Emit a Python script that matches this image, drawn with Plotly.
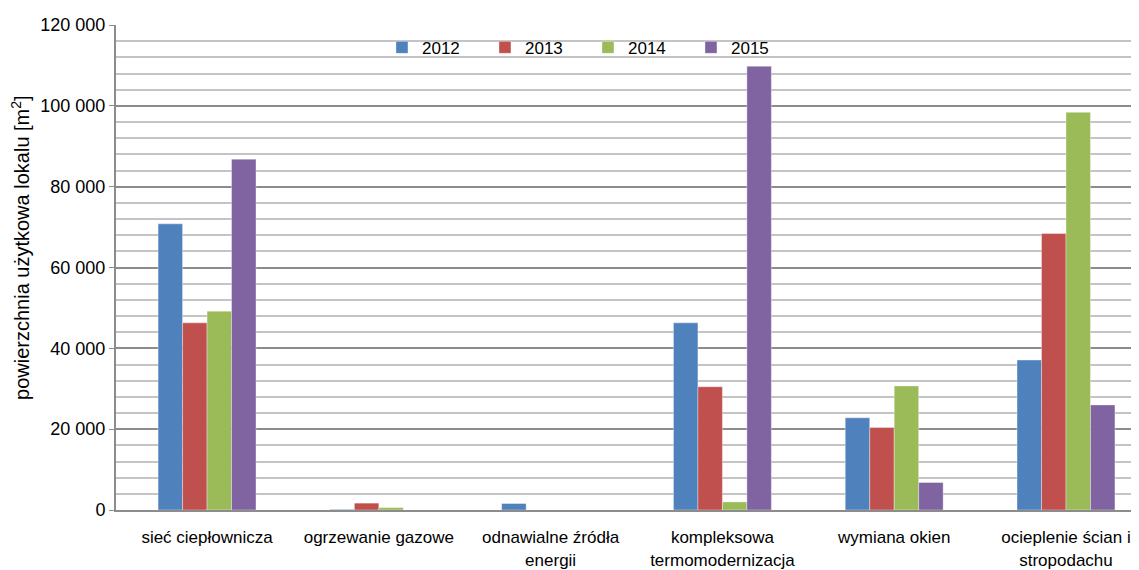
import plotly.graph_objects as go

categories = [
    "sieć ciepłownicza",
    "ogrzewanie gazowe",
    "odnawialne źródła<br>energii",
    "kompleksowa<br>termomodernizacja",
    "wymiana okien",
    "ocieplenie ścian i<br>stropodachu",
]
years = ["2012", "2013", "2014", "2015"]
v2012 = [70800, 150, 1600, 46300, 22800, 37100]
v2013 = [46300, 1700, 0, 30500, 20400, 68400]
v2014 = [49200, 600, 0, 2000, 30700, 98400]
v2015 = [86800, 0, 0, 109800, 6800, 26000]
series = [v2012, v2013, v2014, v2015]
colors = ["#4f81bd", "#c0504d", "#9bbb59", "#8064a2"]

y_ticks = [0, 20000, 40000, 60000, 80000, 100000, 120000]
y_tick_labels = ["0", "20 000", "40 000", "60 000", "80 000", "100 000", "120 000"]
y_title = "powierzchnia użytkowa lokalu [m<sup>2</sup>]"

fig = go.Figure()
for name, vals, col in zip(years, series, colors):
    fig.add_trace(go.Bar(
        x=categories, y=vals, name=name,
        marker=dict(color=col, line=dict(width=0.6, color="rgba(255,255,255,0.6)")),
    ))

font = "Liberation Sans, Arial, sans-serif"
fig.update_layout(
    width=1131, height=562,
    margin=dict(l=108, r=0, t=17, b=60),
    paper_bgcolor="white", plot_bgcolor="white",
    barmode="group", bargap=0.43, bargroupgap=0,
    font=dict(family=font, size=17, color="black"),
    showlegend=True,
    legend=dict(
        orientation="h", x=0.26, xanchor="left", y=0.953, yanchor="middle",
        entrywidth=58, entrywidthmode="pixels",
        font=dict(family=font, size=17, color="black"),
        bgcolor="rgba(0,0,0,0)", itemclick=False,
    ),
    xaxis=dict(
        range=[-0.53, 5.425],
        showline=True, linecolor="#8c8c8c", linewidth=2,
        ticks="", tickfont=dict(size=17), ticklabelstandoff=11,
        showgrid=False, fixedrange=True,
    ),
    yaxis=dict(
        range=[0, 120000], tickvals=y_ticks, ticktext=y_tick_labels,
        showline=True, linecolor="#8c8c8c", linewidth=2,
        ticks="outside", ticklen=5, tickcolor="#8c8c8c",
        showgrid=True, gridcolor="#8c8c8c", gridwidth=1.5,
        minor=dict(dtick=4000, showgrid=True, gridcolor="#c4c4c4", gridwidth=1.5),
        tickfont=dict(size=18),
        zeroline=False, fixedrange=True,
    ),
    annotations=[dict(
        text=y_title, textangle=-90, xref="paper", yref="paper",
        x=-0.094, y=0.542, xanchor="center", yanchor="middle",
        showarrow=False, font=dict(family=font, size=20, color="black"),
    )],
)

fig.write_html("out.html")
